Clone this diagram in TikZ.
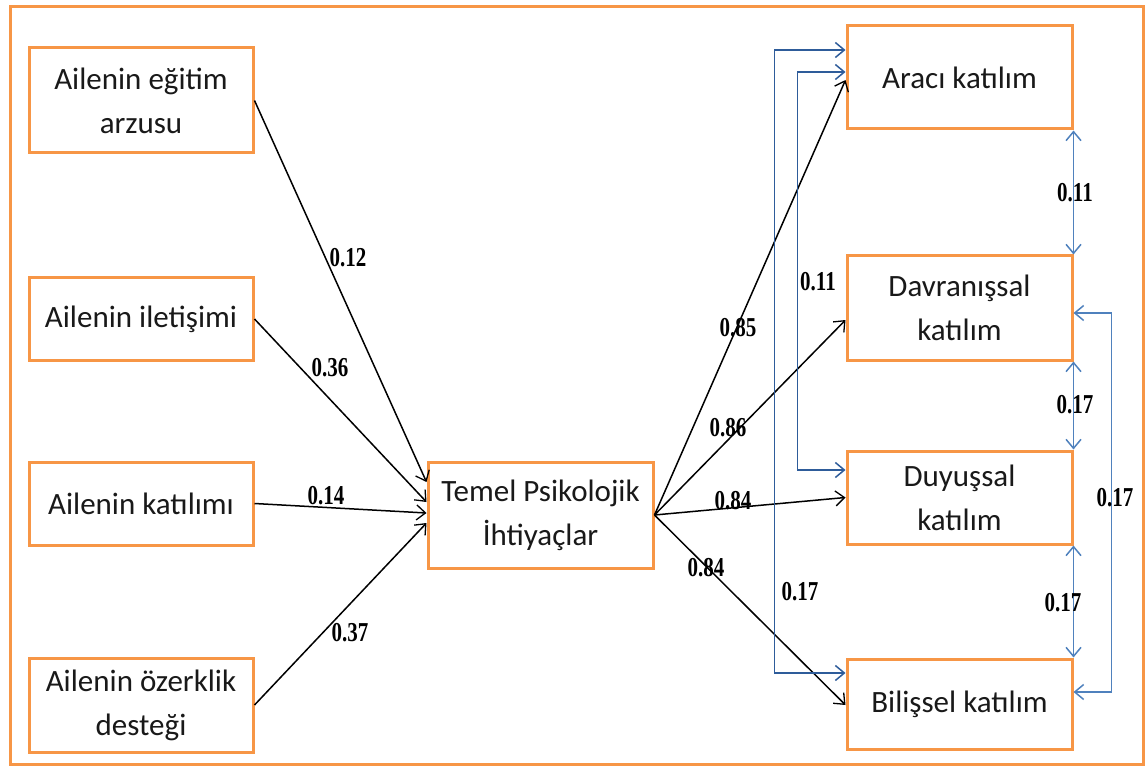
\documentclass[tikz,border=0pt]{standalone}
\usepackage{fontspec}
\setmainfont{Carlito}
\newfontfamily\numfont{Liberation Serif}
\usetikzlibrary{arrows.meta}
\definecolor{boxorange}{HTML}{F79646}
\definecolor{linkblue}{HTML}{4F81BD}
\definecolor{darkblue}{HTML}{2E5C9A}
\newcommand{\coef}[1]{\scalebox{1}[1.3]{#1}}
\tikzset{
  box/.style={draw=boxorange, line width=3pt, fill=white, align=center,
    minimum width=224pt, inner sep=2pt, text=black!90,
    font=\fontsize{31pt}{44pt}\selectfont},
  path/.style={draw=black, line width=1.5pt,
    -{Straight Barb[length=9pt,width=15pt,line width=1.3pt]}},
  corr/.style={draw=linkblue, line width=1.8pt,
    {Straight Barb[length=9pt,width=15pt,line width=1.5pt]}-{Straight Barb[length=9pt,width=15pt,line width=1.5pt]}},
  corrdark/.style={corr, draw=darkblue},
  lbl/.style={font=\numfont\bfseries\fontsize{21pt}{21pt}\selectfont, inner sep=0pt}
}
\begin{document}
\begin{tikzpicture}[x=1pt, y=-1pt]
\useasboundingbox (0,0) rectangle (1148,767);
% outer frame
\draw[boxorange, line width=3pt] (10,7) rectangle (1143,764);

% predictors
\node[box, minimum height=105pt] (egt) at (141,100.5) {Ailenin eğitim\\arzusu};
\node[box, minimum height=82pt]  (ilt) at (141,319) {Ailenin iletişimi};
\node[box, minimum height=83pt]  (kat) at (141,503.5) {Ailenin katılımı};
\node[box, minimum height=94pt]  (ozr) at (141,705) {Ailenin özerklik\\desteği};

% mediator
\node[box, minimum width=225pt, minimum height=106pt] (tpi) at (540.5,515) {Temel Psikolojik\\İhtiyaçlar};

% outcomes
\node[box, minimum width=225pt, minimum height=103pt] (ara) at (959.5,77.5) {Aracı katılım};
\node[box, minimum width=225pt, minimum height=104pt] (dav) at (959.5,308) {Davranışsal\\katılım};
\node[box, minimum width=225pt, minimum height=93pt]  (duy) at (959.5,497.5) {Duyuşsal\\katılım};
\node[box, minimum width=225pt, minimum height=90pt]  (bil) at (959.5,704) {Bilişsel katılım};

% paths into the mediator
\draw[path] (egt.east) -- ([yshift=33pt]tpi.west);
\draw[path] (ilt.east) -- ([yshift=13pt]tpi.west);
\draw[path] (kat.east) -- ([yshift=2pt]tpi.west);
\draw[path] (ozr.east) -- ([yshift=-8pt]tpi.west);

% paths out of the mediator
\draw[path] (tpi.east) -- ([yshift=-2.5pt]ara.west);
\draw[path] (tpi.east) -- ([yshift=-12pt]dav.west);
\draw[path] (tpi.east) -- (duy.west);
\draw[path] (tpi.east) -- ([yshift=-1pt]bil.west);

% correlations between outcomes
\draw[corr] (ara.south east) -- (dav.north east);
\draw[corr] (dav.south east) -- (duy.north east);
\draw[corr] (duy.south east) -- (bil.north east);
\draw[corr] ([yshift=-5pt]dav.east) -- ++(38pt,0) |- ([yshift=12pt]bil.east);
\draw[corrdark] ([yshift=27.5pt]ara.west) -- ++(-71pt,0) |- ([yshift=31pt]bil.west);
\draw[corrdark] ([yshift=5.5pt]ara.west) -- ++(-48pt,0) |- ([yshift=27.5pt]duy.west);

% coefficients
\node[lbl] (c1) at (348,258) {\coef{0.12}};
\node[lbl] (c2) at (330,368) {\coef{0.36}};
\node[lbl] (c3) at (326,496) {\coef{0.14}};
\node[lbl] (c4) at (350,633) {\coef{0.37}};
\node[lbl] (c5) at (738,328) {\coef{0.85}};
\node[lbl] (c6) at (728,428) {\coef{0.86}};
\node[lbl] (c7) at (733,501) {\coef{0.84}};
\node[lbl] (c8) at (706,568) {\coef{0.84}};
\node[lbl] (r1) at (1075,193) {\coef{0.11}};
\node[lbl] (r2) at (1075,405) {\coef{0.17}};
\node[lbl] (r3) at (1063,603) {\coef{0.17}};
\node[lbl] (r4) at (1115,498) {\coef{0.17}};
\node[lbl] (r5) at (800,592) {\coef{0.17}};
\node[lbl] (r6) at (818,282) {\coef{0.11}};
\end{tikzpicture}
\end{document}
